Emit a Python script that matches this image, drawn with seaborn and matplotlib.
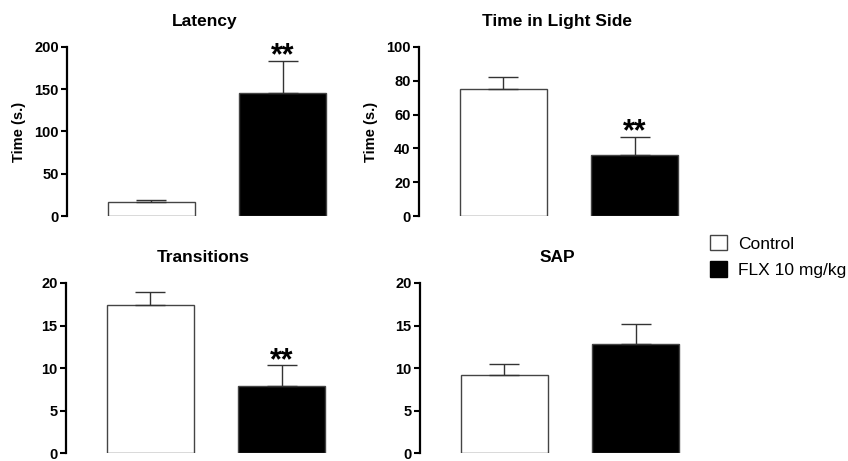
import numpy as np
import pandas as pd
import seaborn as sns
from matplotlib import pyplot as plt
from matplotlib.patches import Patch

groups = ['Control', 'FLX 10 mg/kg']
panels = ['Latency', 'Time in Light Side', 'Transitions', 'SAP']
means = {'Latency': [16, 146],
         'Time in Light Side': [75, 36],
         'Transitions': [17.4, 7.9],
         'SAP': [9.2, 12.8]}
sems = {'Latency': [3, 38],
        'Time in Light Side': [7, 11],
        'Transitions': [1.5, 2.4],
        'SAP': [1.3, 2.4]}
ymax = {'Latency': 200, 'Time in Light Side': 100, 'Transitions': 20, 'SAP': 20}
ystep = {'Latency': 50, 'Time in Light Side': 20, 'Transitions': 5, 'SAP': 5}
ylabels = {'Latency': 'Time (s.)', 'Time in Light Side': 'Time (s.)',
           'Transitions': '', 'SAP': ''}
signif = {'Latency': [False, True], 'Time in Light Side': [False, True],
          'Transitions': [False, True], 'SAP': [False, False]}

sns.set_style('ticks')
plt.rcParams['font.family'] = ['Liberation Sans', 'DejaVu Sans']
plt.rcParams.update({'text.color': 'black', 'axes.labelcolor': 'black',
                     'xtick.color': 'black', 'ytick.color': 'black',
                     'axes.edgecolor': 'black'})

fig = plt.figure(figsize=(8.48, 4.61), dpi=100)
W, H = 848., 461.
# left px, bottom px (zero line), top px
boxes = {'Latency': (67, 216, 47),
         'Time in Light Side': (419, 216, 47),
         'Transitions': (66, 453, 283),
         'SAP': (420, 453, 283)}
palette = {'Control': 'white', 'FLX 10 mg/kg': 'black'}

for name in panels:
    lx, by, ty = boxes[name]
    ax = fig.add_axes([lx / W, (H - by) / H, 275 / W, (by - ty) / H])
    df = pd.DataFrame({'group': groups, 'value': means[name]})
    sns.barplot(data=df, x='group', y='value', hue='group', palette=palette,
                width=0.66, edgecolor='#444444', linewidth=1.0,
                legend=False, ax=ax)
    ax.errorbar([0, 1], means[name], yerr=[[0, 0], sems[name]], fmt='none',
                ecolor='#333333', elinewidth=1.0, capsize=11, capthick=1.0)
    for i, s in enumerate(signif[name]):
        if s:
            ax.annotate('**', (i, means[name][i] + sems[name][i]),
                        xytext=(0, -2.5), textcoords='offset points',
                        ha='center', va='baseline', fontsize=22,
                        fontweight='bold', annotation_clip=False)
    ax.set_xlim(-0.64, 1.45)
    ax.set_ylim(0, ymax[name])
    ax.set_yticks(np.arange(0, ymax[name] + 1, ystep[name]))
    ax.set_xticks([])
    ax.set_xlabel('')
    ax.set_ylabel(ylabels[name], fontsize=10.5, fontweight='bold', labelpad=6)
    ax.set_title(name, fontsize=12.5, fontweight='bold', pad=15)
    for t in ax.get_yticklabels():
        t.set_fontweight('bold')
    ax.tick_params(axis='y', labelsize=10.5, width=1.5, length=4, pad=2)
    sns.despine(ax=ax, bottom=True)
    ax.spines['left'].set_linewidth(1.6)

handles = [Patch(facecolor='white', edgecolor='#444444', linewidth=1.0),
           Patch(facecolor='black', edgecolor='black')]
fig.legend(handles, groups, loc='upper left', bbox_to_anchor=(703 / W, 1 - 228 / H),
           frameon=False, fontsize=12.5, handlelength=1.0, handleheight=1.0,
           handletextpad=0.6, labelspacing=0.55, borderaxespad=0)

fig.savefig('out.png', dpi=100)
plt.close('all')
